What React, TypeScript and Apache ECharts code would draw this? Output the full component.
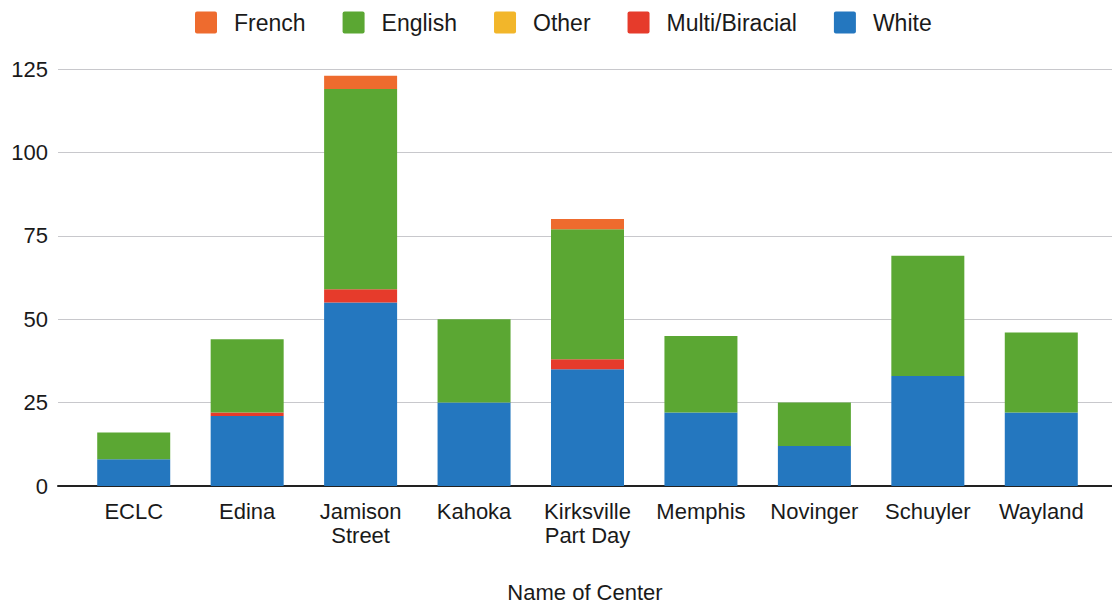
import React, { useEffect, useRef } from "react";
import * as echarts from "echarts";

const categories = ["ECLC", "Edina", "Jamison\nStreet", "Kahoka", "Kirksville\nPart Day", "Memphis", "Novinger", "Schuyler", "Wayland"];
const white = [8, 21, 55, 25, 35, 22, 12, 33, 22];
const multi = [0, 1, 4, 0, 3, 0, 0, 0, 0];
const other = [0, 0, 0, 0, 0, 0, 0, 0, 0];
const english = [8, 22, 60, 25, 39, 23, 13, 36, 24];
const french = [0, 0, 4, 0, 3, 0, 0, 0, 0];
const legendOrder = ["French", "English", "Other", "Multi/Biracial", "White"];
const yTicks = [0, 25, 50, 75, 100, 125];

const colors: Record<string, string> = {
  White: "#2477bf",
  "Multi/Biracial": "#e63b2b",
  Other: "#f2b62a",
  English: "#5ba733",
  French: "#ee6b2e",
};

export default function App() {
  const ref = useRef<HTMLDivElement>(null);
  useEffect(() => {
    if (!ref.current) return;
    const chart = echarts.init(ref.current, undefined, { renderer: "svg" });
    const font = "'Liberation Sans', Arial, sans-serif";
    const ink = "#1a1a1a";
    const mk = (name: string, data: number[]) => ({
      name,
      type: "bar",
      stack: "total",
      xAxisIndex: 1,
      yAxisIndex: 1,
      barWidth: 73,
      itemStyle: { color: colors[name] },
      data,
    });
    chart.setOption({
      animation: false,
      textStyle: { fontFamily: font },
      legend: {
        data: legendOrder,
        top: 6,
        left: 190,
        itemWidth: 22,
        itemHeight: 22,
        itemGap: 37,
        icon: "path://M2,0 L20,0 Q22,0 22,2 L22,20 Q22,22 20,22 L2,22 Q0,22 0,20 L0,2 Q0,0 2,0 Z",
        textStyle: { fontSize: 23, color: ink, fontFamily: font, padding: [0, 0, 0, 12] },
      },
      grid: [
        { left: 58, right: 0, top: 69, bottom: 120, containLabel: false, outerBoundsMode: "none" },
        { left: 77, right: 14, top: 69, bottom: 120, containLabel: false, outerBoundsMode: "none" },
      ],
      xAxis: [
        {
          type: "category",
          gridIndex: 0,
          data: categories,
          axisLine: { lineStyle: { color: "#222", width: 2 } },
          axisTick: { show: false },
          axisLabel: { show: false },
          name: "Name of Center",
          nameLocation: "middle",
          nameGap: 95,
          nameTextStyle: { fontSize: 22, color: ink, fontFamily: font },
        },
        {
          type: "category",
          gridIndex: 1,
          data: categories,
          axisLine: { show: false },
          axisTick: { show: false },
          axisLabel: { fontSize: 22, color: ink, fontFamily: font, margin: 13, lineHeight: 24, interval: 0 },
        },
      ],
      yAxis: [
        {
          type: "value",
          gridIndex: 0,
          min: yTicks[0],
          max: yTicks[yTicks.length - 1],
          interval: 25,
          axisLine: { show: false },
          axisTick: { show: false },
          axisLabel: { fontSize: 22, color: ink, fontFamily: font, margin: 10 },
          splitLine: { lineStyle: { color: "#c8c8cc", width: 1 } },
        },
        {
          type: "value",
          gridIndex: 1,
          min: yTicks[0],
          max: yTicks[yTicks.length - 1],
          interval: 25,
          show: false,
          splitLine: { show: false },
        },
      ],
      series: [
        mk("White", white),
        mk("Multi/Biracial", multi),
        mk("Other", other),
        mk("English", english),
        mk("French", french),
      ],
    });
    return () => chart.dispose();
  }, []);
  return (
    <div
      ref={ref}
      style={{ position: "fixed", left: 0, top: 0, width: 1112, height: 606, background: "#fff" }}
    />
  );
}
